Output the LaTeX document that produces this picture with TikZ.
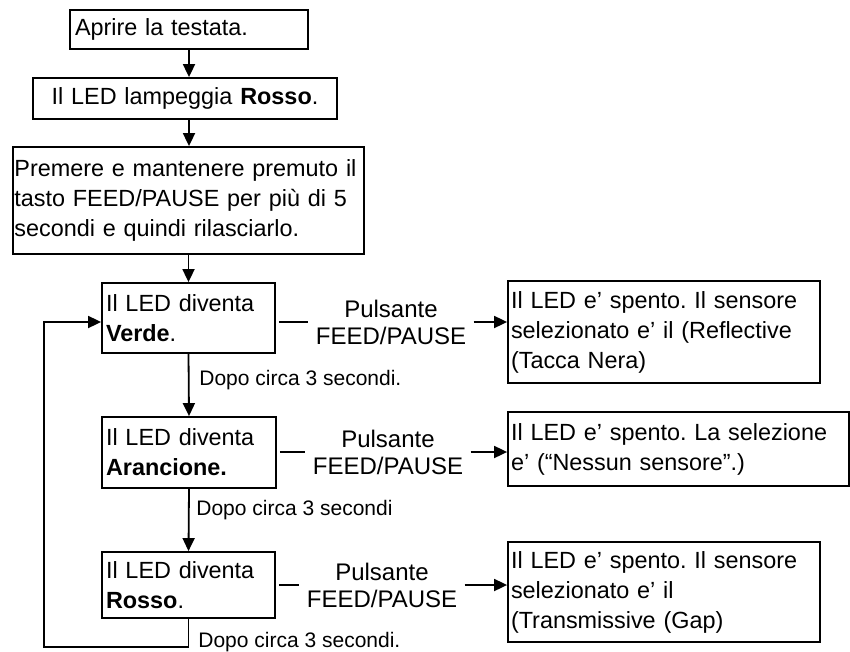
\documentclass[tikz,border=0pt]{standalone}
\usepackage{fontspec}
\setmainfont{Liberation Sans}
\frenchspacing
\usetikzlibrary{arrows.meta}
\tikzset{
  box/.style={draw, line width=0.9pt, align=left, inner ysep=0pt, inner xsep=2pt,
    font=\fontsize{11.7}{15}\selectfont},
  lbl/.style={align=center, inner xsep=3.5pt, font=\fontsize{12}{13.5}\selectfont},
  note/.style={anchor=west, inner sep=0pt, font=\fontsize{10.5}{12}\selectfont},
  arr/.style={-{Triangle[length=6.5pt,width=6pt]}, line width=0.9pt},
  link/.style={line width=0.9pt}
}
\begin{document}
\begin{tikzpicture}[x=0.5pt, y=-0.5pt]
    \useasboundingbox (0,0) rectangle (850,652);
    % main column
    \node[box, inner xsep=2.5pt, minimum width=119pt, minimum height=19.5pt, text width=114pt] (open) at (189,29.5) {Aprire la testata.};
    \node[box, align=center, minimum width=152pt, minimum height=20.5pt, text width=148pt] (blink) at (185,98.5) {Il LED lampeggia \textbf{Rosso}.};
    \node[box, inner xsep=0pt, minimum width=175.5pt, minimum height=53.5pt, text width=175.5pt] (press) at (188.5,200.5)
      {\hspace*{0.7pt}Premere e mantenere premuto il\\\hspace*{0.7pt}tasto FEED/PAUSE per più di 5\\\hspace*{0.7pt}secondi e quindi rilasciarlo.};
    \node[box, minimum width=86.5pt, minimum height=35pt, text width=82.5pt] (green) at (188.5,318) {Il LED diventa\\\textbf{Verde}.};
    \node[box, minimum width=87pt, minimum height=35.5pt, text width=83pt] (orange) at (189,452.5) {Il LED diventa\\\textbf{Arancione.}};
    \node[box, minimum width=86.5pt, minimum height=33pt, text width=82.5pt] (red) at (188.5,585) {Il LED diventa\\\textbf{Rosso}.};
    % results
    \node[box, inner xsep=1.5pt, minimum width=156pt, minimum height=51pt, text width=153pt] (r1) at (664,332)
      {Il LED e’ spento. Il sensore\\selezionato e’ il (Reflective\\(Tacca Nera)};
    \node[box, inner xsep=1.5pt, minimum width=170.5pt, minimum height=37pt, text width=167.5pt] (r2) at (678.5,449)
      {Il LED e’ spento. La selezione\\e’ (“Nessun sensore”.)};
    \node[box, inner xsep=1.5pt, minimum width=156pt, minimum height=50pt, text width=153pt] (r3) at (664,592)
      {Il LED e’ spento. Il sensore\\selezionato e’ il\\(Transmissive (Gap)};
    % button labels
    \foreach \n/\x/\y in {p1/391/322, p2/388/452, p3/382/585}
      \node[lbl] (\n) at (\x,\y) {Pulsante\\FEED/PAUSE};
    % time notes
    \node[note] (t1) at (199,380) {Dopo circa 3 secondi.};
    \node[note] (t2) at (196,510) {Dopo circa 3 secondi};
    \node[note] (t3) at (198,642) {Dopo circa 3 secondi.};
    \coordinate (lpcorner) at (44,647);
    % connectors
    \draw[arr] (open.south) -- (open.south |- blink.north);
    \draw[arr] (open.south |- blink.south) -- (open.south |- press.north);
    \draw[arr] (green.north |- press.south) -- (green.north);
    \draw[arr] (green.south) -- (orange.north);
    \draw[arr] (orange.south) -- (red.north);
    \draw[arr] (red.south) |- (lpcorner) |- (green.west |- p1);
    \foreach \b/\p/\r in {green/p1/r1, orange/p2/r2, red/p3/r3} {
      \draw[link, shorten <=1.5pt] (\b.east |- \p) -- (\p.west);
      \draw[arr] (\p.east) -- (\p.east -| \r.west);
    }
\end{tikzpicture}
\end{document}
